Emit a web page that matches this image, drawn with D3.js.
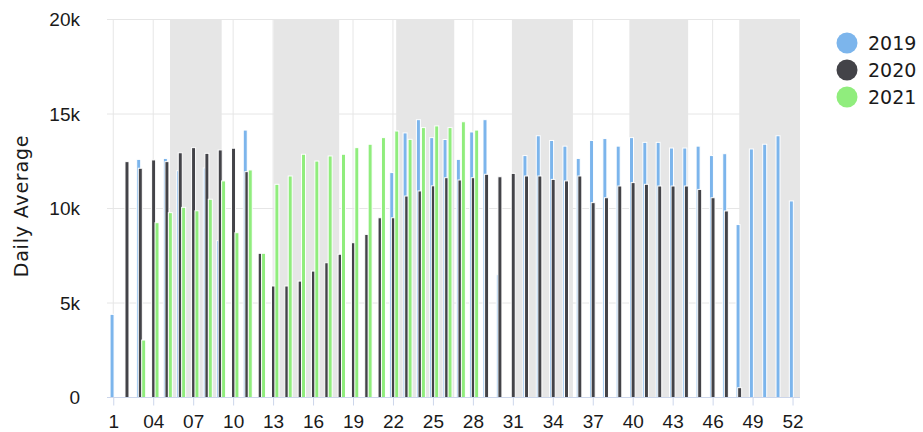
<!DOCTYPE html>
<html>
<head>
<meta charset="utf-8">
<script src="https://cdn.jsdelivr.net/npm/d3@7"></script>
<style>
  body { margin: 0; background: #fff; }
  svg { font-family: 'DejaVu Sans', sans-serif; }
</style>
</head>
<body>
<svg></svg>
<script>
let weeks = [1, 2, 3, 4, 5, 6, 7, 8, 9, 10, 11, 12, 13, 14, 15, 16, 17, 18, 19, 20, 21, 22, 23, 24, 25, 26,
             27, 28, 29, 30, 31, 32, 33, 34, 35, 36, 37, 38, 39, 40, 41, 42, 43, 44, 45, 46, 47, 48, 49, 50, 51, 52]

let years = ['2019', '2020', '2021']

let values2019 = [4400, null, 12600, null, 12650, 12000, null, 12150, 8300, null, 14150, null, null,
                  null, null, null, null, null, null, null, null, 11900, 14000, 14700, 13750, 13650,
                  12600, 14050, 14700, 6500, null, 12800, 13850, 13600, 13300, 12650, 13600, 13700, 13300,
                  13750, 13500, 13500, 13200, 13200, 13300, 12800, 12900, 9150, 13150, 13400, 13850, 10400]

let values2020 = [null, 12480, 12130, 12570, 12480, 12950, 13220, 12920, 13100, 13190, 11950, 7630, 5900,
                  5900, 6160, 6690, 7130, 7580, 8190, 8630, 9510, 9510, 10660, 10930, 11200, 11630,
                  11510, 11630, 11810, 11680, 11860, 11720, 11720, 11540, 11460, 11720, 10310, 10570, 11190,
                  11370, 11280, 11190, 11190, 11190, 11010, 10570, 9870, 520, null, null, null, null]

let values2021 = [null, null, 3040, 9250, 9780, 10060, 9880, 10490, 11460, 8720, 12040, 7630, 11280,
                  11720, 12870, 12510, 12780, 12870, 13220, 13400, 13750, 14100, 13660, 14280, 14370, 14280,
                  14590, 14150, null, null, null, null, null, null, null, null, null, null, null,
                  null, null, null, null, null, null, null, null, null, null, null, null, null]

// shaded months, in week units
let bands = [[5.26, 9.14], [13.04, 17.96], [22.24, 26.6], [30.93, 35.51], [39.75, 44.16], [48.0, 52.56]]

let xTicks = [1, 4, 7, 10, 13, 16, 19, 22, 25, 28, 31, 34, 37, 40, 43, 46, 49, 52]
let xTickLabels = ['1', '04', '07', '10', '13', '16', '19', '22', '25', '28', '31', '34', '37', '40', '43', '46', '49', '52']
let yTicks = [0, 5000, 10000, 15000, 20000]
let yTickLabels = ['0', '5k', '10k', '15k', '20k']

let series = [values2019, values2020, values2021]
let colors = ['#7cb5ec', '#434348', '#90ed7d']
let offsets = [-1.2, 0.4, 3.8]

let width = 923
let height = 432
let plotLeft = 107
let plotRight = 800
let plotTop = 19.5
let plotBottom = 397.5

let svg = d3.select('svg')
let xScale
let yScale

let drawCanvas = () => {
    svg.attr('width', width)
    svg.attr('height', height)
}

let generateScales = () => {
    xScale = d3.scaleLinear()
    .domain([0.53, 52.56])
    .range([plotLeft, plotRight])

    yScale = d3.scaleLinear()
    .domain([0, 20000])
    .range([plotBottom, plotTop])
}

let drawBands = () => {
    svg.selectAll('.band')
    .data(bands)
    .enter()
    .append('rect')
    .attr('class', 'band')
    .attr('x', (d) => xScale(d[0]))
    .attr('width', (d) => xScale(d[1]) - xScale(d[0]))
    .attr('y', plotTop)
    .attr('height', plotBottom - plotTop)
    .attr('fill', '#e6e6e6')
}

let drawGrid = () => {
    svg.append('g')
    .selectAll('line')
    .data(yTicks)
    .enter()
    .append('line')
    .attr('x1', plotLeft)
    .attr('x2', plotRight)
    .attr('y1', (d) => yScale(d))
    .attr('y2', (d) => yScale(d))
    .attr('stroke', '#e6e6e6')

    svg.append('g')
    .selectAll('line')
    .data(xTicks)
    .enter()
    .append('line')
    .attr('x1', (d) => xScale(d))
    .attr('x2', (d) => xScale(d))
    .attr('y1', plotTop)
    .attr('y2', plotBottom)
    .attr('stroke', '#e6e6e6')
}

let drawBars = () => {
    series.forEach((vals, i) => {
        let pts = weeks.map((w, j) => ({ week: w, value: vals[j] })).filter((p) => p.value != null)
        svg.append('g')
        .selectAll('rect')
        .data(pts)
        .enter()
        .append('rect')
        .attr('x', (p) => xScale(p.week) + offsets[i] - 2)
        .attr('width', 4)
        .attr('y', (p) => yScale(p.value))
        .attr('height', (p) => yScale(0) - yScale(p.value))
        .attr('fill', colors[i])
        .attr('stroke', '#fff')
        .attr('stroke-width', 1)
    })
}

let generateAxes = () => {
    let xAxis = d3.axisBottom(xScale)
    .tickValues(xTicks)
    .tickFormat((d, i) => xTickLabels[i])
    .tickSize(8)
    .tickPadding(9)

    let gx = svg.append('g')
    .attr('transform', 'translate(0, ' + plotBottom + ')')
    .call(xAxis)
    gx.select('.domain').attr('stroke', '#ccd6eb').attr('d', 'M' + plotLeft + ',0H' + plotRight)
    gx.selectAll('.tick line').attr('stroke', '#ccd6eb')
    gx.selectAll('.tick text').attr('font-size', 19).attr('fill', '#1a1a1a').attr('font-family', null)

    let yAxis = d3.axisLeft(yScale)
    .tickValues(yTicks)
    .tickFormat((d, i) => yTickLabels[i])
    .tickSize(0)
    .tickPadding(plotLeft - 80)

    let gy = svg.append('g')
    .attr('transform', 'translate(' + plotLeft + ', 0)')
    .call(yAxis)
    gy.select('.domain').remove()
    gy.selectAll('.tick text').attr('font-size', 19).attr('fill', '#1a1a1a').attr('font-family', null)

    svg.append('text')
    .attr('transform', 'translate(28, 206) rotate(-90)')
    .attr('text-anchor', 'middle')
    .attr('font-size', 19)
    .attr('letter-spacing', 0.8)
    .attr('fill', '#1a1a1a')
    .text('Daily Average')
}

let generateLegend = () => {
    let items = svg.append('g')
    .selectAll('g')
    .data(years)
    .enter()
    .append('g')
    .attr('transform', (d, i) => 'translate(847, ' + (43 + i * 27) + ')')

    items.append('circle')
    .attr('r', 10.5)
    .attr('fill', (d, i) => colors[i])

    items.append('text')
    .attr('x', 21)
    .attr('dy', '0.36em')
    .attr('font-size', 19)
    .attr('fill', '#1a1a1a')
    .text((d) => d)
}

drawCanvas()
generateScales()
drawBands()
drawGrid()
drawBars()
generateAxes()
generateLegend()
</script>
</body>
</html>
